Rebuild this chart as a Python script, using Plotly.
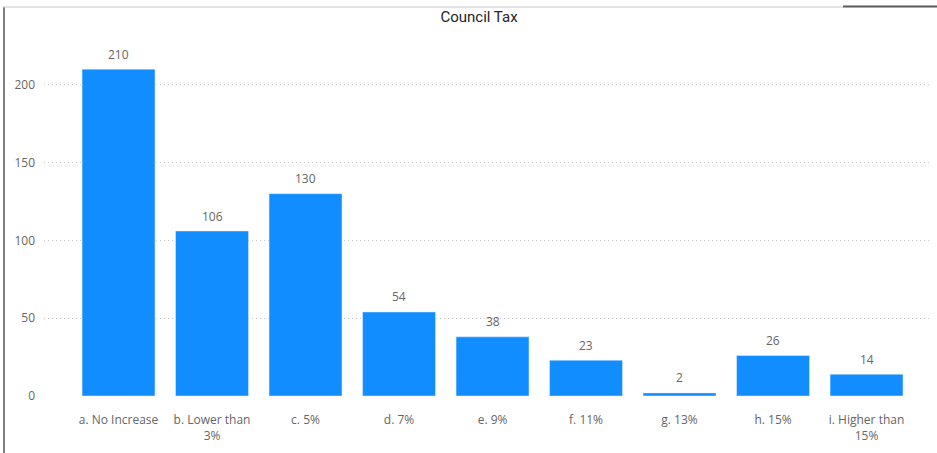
import plotly.graph_objects as go

categories = ["a. No Increase", "b. Lower than<br>3%", "c. 5%", "d. 7%", "e. 9%",
              "f. 11%", "g. 13%", "h. 15%", "i. Higher than<br>15%"]
values = [210, 106, 130, 54, 38, 23, 2, 26, 14]
y_ticks = [0, 50, 100, 150, 200]

W, H = 937, 453
L, R, T, B = 44, 5, 38, 57
pw, ph = W - L - R, H - T - B

def px_x(x):
    return (x - L) / pw

def px_y(y):
    return (H - B - y) / ph

xs = list(range(len(categories)))

fig = go.Figure(go.Bar(
    x=xs, y=values,
    marker_color="#118DFF", width=0.78,
))

annotations = [
    dict(x=x, y=v, xref="x", yref="y", text=str(v), showarrow=False,
         yanchor="middle", yshift=15,
         font=dict(family="Open Sans", size=12, color="#666666"))
    for x, v in zip(xs, values)
]

fig.update_layout(
    width=W, height=H,
    margin=dict(l=L, r=R, t=T, b=B),
    paper_bgcolor="white", plot_bgcolor="white",
    showlegend=False,
    title=dict(text="Council Tax", x=479 / W, xanchor="center", y=1 - 17 / H, yanchor="middle",
               font=dict(family="Roboto", size=15, color="#252423")),
    xaxis=dict(tickmode="array", tickvals=xs, ticktext=categories,
               range=[-0.797, 8.70], showgrid=False, zeroline=False, showline=False,
               tickfont=dict(family="Open Sans", size=12, color="#666666"), ticks="", ticklen=0,
               ticklabelstandoff=15),
    yaxis=dict(range=[0, 230], tickvals=y_ticks, showgrid=True, gridcolor="#C8C8C8", griddash="1px,3px",
               gridwidth=1, zeroline=False, showline=False, ticks="",
               tickfont=dict(family="Open Sans", size=12, color="#666666"), ticklabelstandoff=8),
    annotations=annotations,
    shapes=[
        dict(type="line", xref="paper", yref="paper", x0=px_x(4), x1=px_x(4), y0=px_y(7), y1=px_y(453),
             line=dict(color="#808080", width=2)),
        dict(type="line", xref="paper", yref="paper", x0=px_x(3), x1=px_x(843), y0=px_y(7), y1=px_y(7),
             line=dict(color="#C8C8C8", width=1)),
        dict(type="line", xref="paper", yref="paper", x0=px_x(843), x1=px_x(937), y0=px_y(6.5), y1=px_y(6.5),
             line=dict(color="#5A5A5A", width=2)),
    ],
)

fig.write_html("out.html")
